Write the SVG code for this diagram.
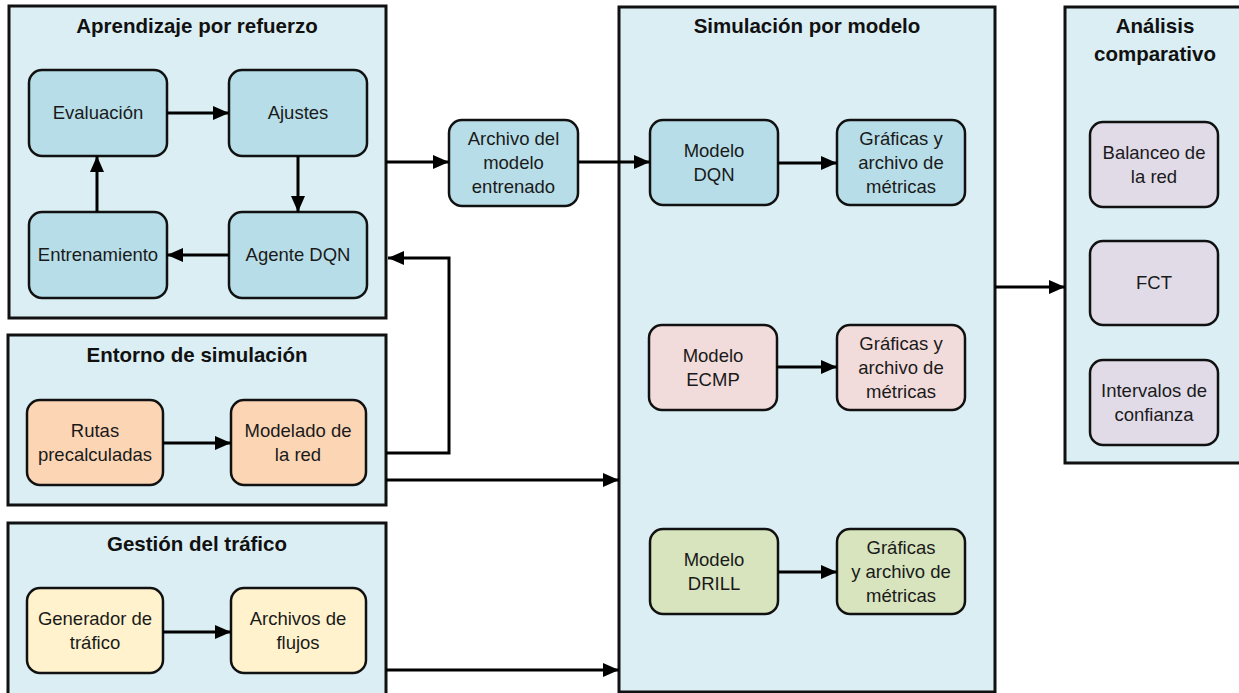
<svg xmlns="http://www.w3.org/2000/svg" width="1239" height="693" viewBox="0 0 1239 693">
  <defs>
    <marker id="arrow" markerUnits="userSpaceOnUse" markerWidth="16" markerHeight="14" refX="16" refY="7" orient="auto">
      <path d="M0,0 L16,7 L0,14 z" fill="#000"/>
    </marker>
    <style>
      .panel { fill: #DAEEF3; stroke: #111; stroke-width: 3; }
      .box { stroke: #111; stroke-width: 2.5; }
      .blue { fill: #B7DEE8; }
      .orange { fill: #FCD5B5; }
      .yellow { fill: #FFF2CC; }
      .pink { fill: #F2DCDB; }
      .green { fill: #D7E4BD; }
      .purple { fill: #E1DBE8; }
      .title { font-family: "Liberation Sans", Arial, sans-serif; font-weight: bold; font-size: 20.5px; fill: #111; text-anchor: middle; }
      .label { font-family: "Liberation Sans", Arial, sans-serif; font-size: 18.5px; fill: #1a1a1a; text-anchor: middle; }
      .link { fill: none; stroke: #000; stroke-width: 3; marker-end: url(#arrow); }
    </style>
  </defs>
  <rect width="1239" height="693" fill="#fff"/>

  <!-- Panel: reinforcement learning loop -->
  <g id="panel-aprendizaje">
    <rect class="panel" x="9" y="6" width="377" height="312"/>
    <text class="title" x="197" y="33">Aprendizaje por refuerzo</text>
  </g>
  <g id="evaluacion">
    <rect class="box blue" x="29" y="70" width="138" height="86" rx="13"/>
    <text class="label" x="98" y="119">Evaluación</text>
  </g>
  <g id="ajustes">
    <rect class="box blue" x="229" y="70" width="138" height="86" rx="13"/>
    <text class="label" x="298" y="119">Ajustes</text>
  </g>
  <g id="entrenamiento">
    <rect class="box blue" x="29" y="212" width="138" height="86" rx="13"/>
    <text class="label" x="98" y="261">Entrenamiento</text>
  </g>
  <g id="agente-dqn">
    <rect class="box blue" x="229" y="212" width="138" height="86" rx="13"/>
    <text class="label" x="298" y="261">Agente DQN</text>
  </g>

  <!-- Panel: simulation environment -->
  <g id="panel-entorno">
    <rect class="panel" x="8" y="335" width="378" height="170"/>
    <text class="title" x="197" y="362">Entorno de simulación</text>
  </g>
  <g id="rutas">
    <rect class="box orange" x="27" y="400" width="136" height="85" rx="13"/>
    <text class="label" x="95" y="437">Rutas</text>
    <text class="label" x="95" y="461">precalculadas</text>
  </g>
  <g id="modelado">
    <rect class="box orange" x="231" y="400" width="135" height="85" rx="13"/>
    <text class="label" x="298" y="437">Modelado de</text>
    <text class="label" x="298" y="461">la red</text>
  </g>

  <!-- Panel: traffic management -->
  <g id="panel-gestion">
    <rect class="panel" x="8" y="523" width="378" height="172"/>
    <text class="title" x="197" y="551">Gestión del tráfico</text>
  </g>
  <g id="generador">
    <rect class="box yellow" x="27" y="588" width="136" height="85" rx="13"/>
    <text class="label" x="95" y="625">Generador de</text>
    <text class="label" x="95" y="649">tráfico</text>
  </g>
  <g id="archivos-flujos">
    <rect class="box yellow" x="231" y="588" width="135" height="85" rx="13"/>
    <text class="label" x="298" y="625">Archivos de</text>
    <text class="label" x="298" y="649">flujos</text>
  </g>

  <!-- Trained model file -->
  <g id="archivo-modelo">
    <rect class="box blue" x="449" y="120" width="129" height="86" rx="13"/>
    <text class="label" x="513.5" y="145">Archivo del</text>
    <text class="label" x="513.5" y="169">modelo</text>
    <text class="label" x="513.5" y="193">entrenado</text>
  </g>

  <!-- Panel: per-model simulation -->
  <g id="panel-simulacion">
    <rect class="panel" x="619" y="7" width="376" height="685"/>
    <text class="title" x="807" y="33">Simulación por modelo</text>
  </g>
  <g id="modelo-dqn">
    <rect class="box blue" x="650" y="120" width="128" height="85" rx="13"/>
    <text class="label" x="714" y="157">Modelo</text>
    <text class="label" x="714" y="181">DQN</text>
  </g>
  <g id="graficas-dqn">
    <rect class="box blue" x="837" y="120" width="128" height="85" rx="13"/>
    <text class="label" x="901" y="145">Gráficas y</text>
    <text class="label" x="901" y="169">archivo de</text>
    <text class="label" x="901" y="193">métricas</text>
  </g>
  <g id="modelo-ecmp">
    <rect class="box pink" x="649" y="325" width="128" height="85" rx="13"/>
    <text class="label" x="713" y="362">Modelo</text>
    <text class="label" x="713" y="386">ECMP</text>
  </g>
  <g id="graficas-ecmp">
    <rect class="box pink" x="837" y="325" width="128" height="85" rx="13"/>
    <text class="label" x="901" y="350">Gráficas y</text>
    <text class="label" x="901" y="374">archivo de</text>
    <text class="label" x="901" y="398">métricas</text>
  </g>
  <g id="modelo-drill">
    <rect class="box green" x="650" y="529" width="128" height="85" rx="13"/>
    <text class="label" x="714" y="566">Modelo</text>
    <text class="label" x="714" y="590">DRILL</text>
  </g>
  <g id="graficas-drill">
    <rect class="box green" x="837" y="529" width="128" height="85" rx="13"/>
    <text class="label" x="901" y="554">Gráficas</text>
    <text class="label" x="901" y="578">y archivo de</text>
    <text class="label" x="901" y="602">métricas</text>
  </g>

  <!-- Panel: comparative analysis -->
  <g id="panel-analisis">
    <rect class="panel" x="1065" y="7" width="180" height="456"/>
    <text class="title" x="1155" y="33">Análisis</text>
    <text class="title" x="1155" y="61">comparativo</text>
  </g>
  <g id="balanceo">
    <rect class="box purple" x="1090" y="122" width="128" height="85" rx="13"/>
    <text class="label" x="1154" y="159">Balanceo de</text>
    <text class="label" x="1154" y="183">la red</text>
  </g>
  <g id="fct">
    <rect class="box purple" x="1090" y="241" width="128" height="84" rx="13"/>
    <text class="label" x="1154" y="289">FCT</text>
  </g>
  <g id="intervalos">
    <rect class="box purple" x="1090" y="360" width="128" height="85" rx="13"/>
    <text class="label" x="1154" y="397">Intervalos de</text>
    <text class="label" x="1154" y="421">confianza</text>
  </g>

  <!-- Connectors -->
  <g id="connectors">
    <line class="link" x1="167" y1="113" x2="229" y2="113"/>
    <line class="link" x1="298" y1="156" x2="298" y2="212"/>
    <line class="link" x1="229" y1="255" x2="167" y2="255"/>
    <line class="link" x1="97" y1="212" x2="97" y2="156"/>
    <line class="link" x1="163" y1="443" x2="231" y2="443"/>
    <line class="link" x1="163" y1="632" x2="231" y2="632"/>
    <line class="link" x1="386" y1="162" x2="449" y2="162"/>
    <line class="link" x1="578" y1="162" x2="650" y2="162"/>
    <polyline class="link" points="386,453 449,453 449,258 388,258"/>
    <line class="link" x1="386" y1="480" x2="619" y2="480"/>
    <line class="link" x1="386" y1="670" x2="619" y2="670"/>
    <line class="link" x1="778" y1="163" x2="837" y2="163"/>
    <line class="link" x1="777" y1="367" x2="837" y2="367"/>
    <line class="link" x1="778" y1="572" x2="837" y2="572"/>
    <line class="link" x1="995" y1="287" x2="1065" y2="287"/>
  </g>
</svg>
